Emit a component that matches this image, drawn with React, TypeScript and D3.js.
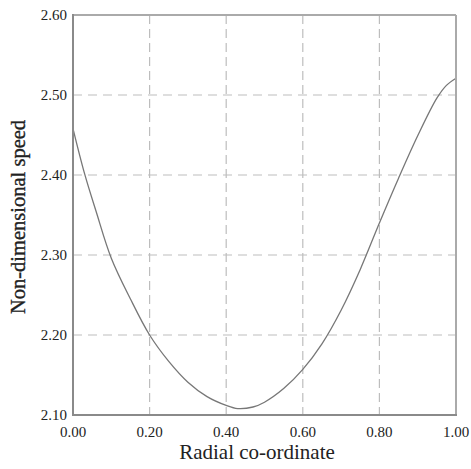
import React from "react";
import * as d3 from "d3";

const radial: number[] = [0, 0.03, 0.06, 0.1, 0.15, 0.2, 0.25, 0.3, 0.35, 0.4, 0.43, 0.47, 0.5, 0.55, 0.6, 0.65, 0.7, 0.75, 0.8, 0.85, 0.9, 0.95, 0.975, 1.0];
const speed: number[] = [2.458, 2.402, 2.355, 2.296, 2.245, 2.2, 2.167, 2.141, 2.123, 2.112, 2.108, 2.11, 2.116, 2.133, 2.157, 2.189, 2.231, 2.282, 2.34, 2.396, 2.449, 2.496, 2.512, 2.521];
const xTicks: number[] = [0, 0.2, 0.4, 0.6, 0.8, 1.0];
const yTicks: number[] = [2.1, 2.2, 2.3, 2.4, 2.5, 2.6];
const xTitle = "Radial co-ordinate";
const yTitle = "Non-dimensional speed";

export default function App() {
  const W = 471, H = 469;
  const left = 73, right = 456, top = 15, bottom = 415;
  const x = d3.scaleLinear().domain([0, 1]).range([left, right]);
  const y = d3.scaleLinear().domain([2.1, 2.6]).range([bottom, top]);
  const pts = radial.map((r, i) => [r, speed[i]] as [number, number]);
  const line = d3.line<[number, number]>().x(d => x(d[0])).y(d => y(d[1])).curve(d3.curveCatmullRom.alpha(0.5));
  const font = "'Liberation Serif', 'Times New Roman', serif";
  return (
    <svg width={W} height={H} style={{ position: "absolute", left: 0, top: 0, background: "#fff" }}>
      <rect x={0} y={0} width={W} height={H} fill="#fff" />
      {xTicks.slice(1, -1).map(t => (
        <line key={"gx" + t} x1={x(t)} x2={x(t)} y1={top} y2={bottom} stroke="#bdbdbd" strokeWidth={1.2} strokeDasharray="9,5" />
      ))}
      {yTicks.slice(1, -1).map(t => (
        <line key={"gy" + t} x1={left} x2={right} y1={y(t)} y2={y(t)} stroke="#bdbdbd" strokeWidth={1.2} strokeDasharray="9,6" />
      ))}
      <path d={line(pts) || ""} fill="none" stroke="#777" strokeWidth={1.3} />
      <line x1={left} x2={right} y1={top} y2={top} stroke="#aaa" strokeWidth={2} />
      <line x1={right} x2={right} y1={top} y2={bottom} stroke="#aaa" strokeWidth={2} />
      <line x1={left} x2={left} y1={top - 1} y2={bottom + 1} stroke="#8a8a8a" strokeWidth={2} />
      <line x1={left - 1} x2={right + 1} y1={bottom} y2={bottom} stroke="#8a8a8a" strokeWidth={2} />
      {xTicks.map(t => (
        <text key={"tx" + t} x={x(t)} y={437} textAnchor="middle" fontFamily={font} fontSize={15} fill="#222">{t.toFixed(2)}</text>
      ))}
      {yTicks.map(t => (
        <text key={"ty" + t} x={67} y={y(t) + 5} textAnchor="end" fontFamily={font} fontSize={15} fill="#222">{t.toFixed(2)}</text>
      ))}
      <text x={257} y={459} textAnchor="middle" fontFamily={font} fontSize={21} fill="#222">{xTitle}</text>
      <text transform={`translate(25,217) rotate(-90)`} textAnchor="middle" fontFamily={font} fontSize={20.5} fill="#222" stroke="#222" strokeWidth={0.35}>{yTitle}</text>
    </svg>
  );
}
